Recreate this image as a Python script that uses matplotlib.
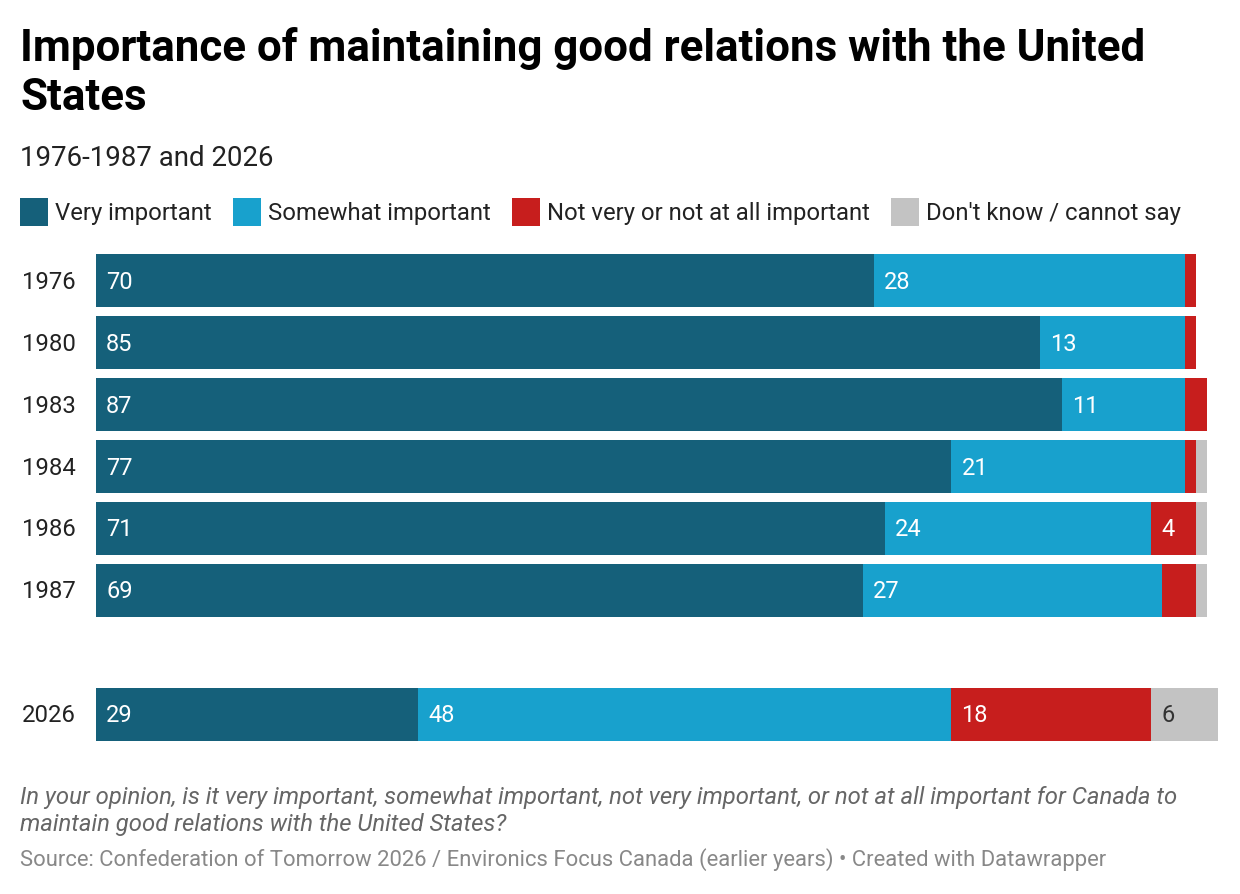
import matplotlib
matplotlib.use("Agg")
import matplotlib.pyplot as plt
import matplotlib.transforms as mtransforms
from matplotlib.patches import Rectangle
import numpy as np

plt.rcParams["font.family"] = ["Roboto", "DejaVu Sans"]

# ---- Data ---------------------------------------------------------------
years = ["1976", "1980", "1983", "1984", "1986", "1987", "2026"]
row_pos = [0, 1, 2, 3, 4, 5, 7]  # gap before 2026
very = [70, 85, 87, 77, 71, 69, 29]
somewhat = [28, 13, 11, 21, 24, 27, 48]
not_imp = [1, 1, 2, 1, 4, 3, 18]
dont_know = [0, 0, 0, 1, 1, 1, 6]

series_names = ["Very important", "Somewhat important",
                "Not very or not at all important", "Don't know / cannot say"]
series_vals = [very, somewhat, not_imp, dont_know]
colors = ["#15607a", "#18a1cd", "#c71e1d", "#c3c3c3"]
label_colors = ["white", "white", "white", "#333333"]

W, H = 1240, 894
fig = plt.figure(figsize=(W / 100, H / 100), dpi=100)


def fx(px):
    return px / W


def fy(py):
    return 1 - py / H


# axes spans bar area: x 96..1218 px, y 254..741 px
ax = fig.add_axes([fx(96), fy(741), fx(1218) - fx(96), fy(254) - fy(741)])
bar_h = 53 / 62
ax.set_xlim(0, 101)
ax.set_ylim(7 + bar_h / 2, -bar_h / 2)
ax.axis("off")

left = np.zeros(len(years))
for vals, col, lcol in zip(series_vals, colors, label_colors):
    vals = np.array(vals, dtype=float)
    ax.barh(row_pos, vals, left=left, height=bar_h, color=col, linewidth=0)
    for y, l, v in zip(row_pos, left, vals):
        if v >= 4:
            ax.annotate(f"{int(v)}", (l, y), xytext=(10, 1),
                        textcoords="offset pixels", ha="left",
                        va="center_baseline", color=lcol, fontsize=17)
    left += vals

# year labels
trans = mtransforms.blended_transform_factory(fig.transFigure, ax.transData)
for y, lab in zip(row_pos, years):
    ax.annotate(lab, (fx(22), y), xycoords=trans, xytext=(0, 1),
                textcoords="offset pixels", ha="left", va="center_baseline",
                fontsize=17.2, color="#222222")

# ---- Title / subtitle ---------------------------------------------------
fig.text(fx(20), fy(61), "Importance of maintaining good relations with the United",
         fontsize=31.6, fontweight="bold", va="baseline", ha="left", color="black")
fig.text(fx(20), fy(110), "States", fontsize=31.6, fontweight="bold",
         va="baseline", ha="left", color="black")
fig.text(fx(20), fy(166), "1976-1987 and 2026", fontsize=19.9, va="baseline",
         ha="left", color="#222222")

# ---- Legend -------------------------------------------------------------
legend_x = [20, 233, 512, 891]
for x0, name, col in zip(legend_x, series_names, colors):
    fig.patches.append(Rectangle((fx(x0), fy(226)), fx(28), 28 / H,
                                 transform=fig.transFigure, color=col,
                                 linewidth=0))
    fig.text(fx(x0 + 35), fy(220), name, fontsize=17.2, va="baseline",
             ha="left", color="#222222")

# ---- Notes --------------------------------------------------------------
fig.text(fx(20), fy(804),
         "In your opinion, is it very important, somewhat important, not very "
         "important, or not at all important for Canada to",
         fontsize=17.2, style="italic", color="#666666", va="baseline")
fig.text(fx(20), fy(831), "maintain good relations with the United States?",
         fontsize=17.2, style="italic", color="#666666", va="baseline")
fig.text(fx(20), fy(866),
         "Source: Confederation of Tomorrow 2026 / Environics Focus Canada "
         "(earlier years) \u2022 Created with Datawrapper",
         fontsize=15.8, color="#888888", va="baseline")

fig.savefig("out.png", dpi=100)
